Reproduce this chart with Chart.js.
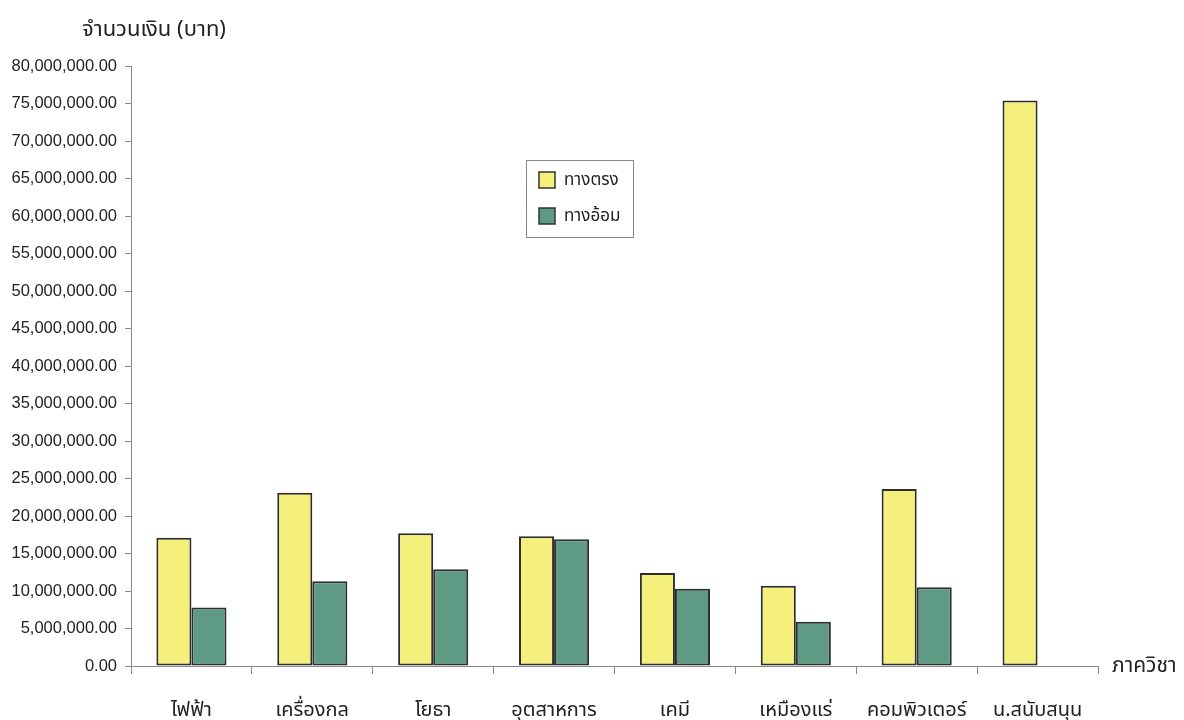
<!DOCTYPE html>
<html>
<head>
<meta charset="utf-8">
<script src="https://cdn.jsdelivr.net/npm/chart.js@4.4.1/dist/chart.umd.min.js"></script>
<style>
  html, body { margin: 0; padding: 0; background: #fff; }
  #wrap { width: 1184px; height: 720px; position: relative; }
</style>
</head>
<body>
<div id="wrap"><canvas id="budgetChart"></canvas></div>
<script>
const departments = ['ไฟฟ้า', 'เครื่องกล', 'โยธา', 'อุตสาหการ', 'เคมี', 'เหมืองแร่', 'คอมพิวเตอร์', 'น.สนับสนุน'];
const directCost = [17100000, 23100000, 17700000, 17300000, 12400000, 10700000, 23600000, 75400000];
const indirectCost = [7800000, 11300000, 12900000, 16900000, 10300000, 5900000, 10500000, null];
const seriesNames = ['ทางตรง', 'ทางอ้อม'];
const yTitle = 'จำนวนเงิน (บาท)';
const xTitle = 'ภาควิชา';

const thaiFont = "'Noto Sans', 'Noto Sans Thai', 'Liberation Sans', sans-serif";

// extra texts + legend box drawn on the canvas
const extras = {
    id: 'extras',
    afterDraw(chart) {
        const ctx = chart.ctx;
        const area = chart.chartArea;
        ctx.save();
        ctx.fillStyle = '#222';
        ctx.font = '22px ' + thaiFont;
        ctx.textBaseline = 'middle';
        ctx.textAlign = 'left';
        ctx.fillText(yTitle, 82, 30);
        ctx.font = '21px ' + thaiFont;
        ctx.fillText(xTitle, area.right + 14, area.bottom);

        // legend
        const lx = 526, ly = 160, lw = 107, lh = 77;
        ctx.strokeStyle = '#888';
        ctx.lineWidth = 1;
        ctx.strokeRect(lx + 0.5, ly + 0.5, lw, lh);
        chart.data.datasets.forEach((ds, i) => {
            const y = ly + 20 + i * 36;
            ctx.fillStyle = ds.backgroundColor;
            ctx.fillRect(lx + 13, y - 8, 16, 16);
            ctx.strokeStyle = '#333';
            ctx.lineWidth = 1.5;
            ctx.strokeRect(lx + 13, y - 8, 16, 16);
            ctx.fillStyle = '#222';
            ctx.font = '17px ' + thaiFont;
            ctx.fillText(ds.label, lx + 38, y);
        });
        ctx.restore();
    }
};

const ctx = document.getElementById('budgetChart').getContext('2d');
new Chart(ctx, {
    type: 'bar',
    data: {
        labels: departments,
        datasets: [{
            label: seriesNames[0],
            data: directCost,
            backgroundColor: '#f5f07c',
            borderColor: '#2e2e2e',
            borderWidth: 2,
            borderSkipped: false
        }, {
            label: seriesNames[1],
            data: indirectCost,
            backgroundColor: '#5f9a84',
            borderColor: '#2e2e2e',
            borderWidth: 2,
            borderSkipped: false
        }]
    },
    options: {
        responsive: true,
        maintainAspectRatio: false,
        animation: false,
        layout: { padding: { top: 66, right: 86, left: 0, bottom: 0 } },
        plugins: {
            legend: { display: false },
            tooltip: { enabled: false }
        },
        datasets: {
            bar: { categoryPercentage: 0.58, barPercentage: 1.0 }
        },
        scales: {
            x: {
                grid: {
                    offset: true,
                    drawOnChartArea: false,
                    drawTicks: true,
                    tickLength: 8,
                    color: '#888'
                },
                border: { color: '#888', width: 1 },
                ticks: {
                    color: '#222',
                    padding: 24,
                    font: { family: thaiFont, size: 20 },
                    maxRotation: 0
                },
                afterFit(scale) { scale.height = 54; }
            },
            y: {
                min: 0,
                max: 80000000,
                grid: {
                    drawOnChartArea: false,
                    drawTicks: true,
                    tickLength: 6,
                    color: '#888'
                },
                border: { color: '#888', width: 1 },
                ticks: {
                    stepSize: 5000000,
                    color: '#222',
                    padding: 8,
                    font: { family: "'Liberation Sans', Arial, sans-serif", size: 16.5 },
                    callback: v => v.toLocaleString('en-US', { minimumFractionDigits: 2, maximumFractionDigits: 2 })
                },
                afterFit(scale) { scale.width = 131; }
            }
        }
    },
    plugins: [extras]
});
</script>
</body>
</html>
